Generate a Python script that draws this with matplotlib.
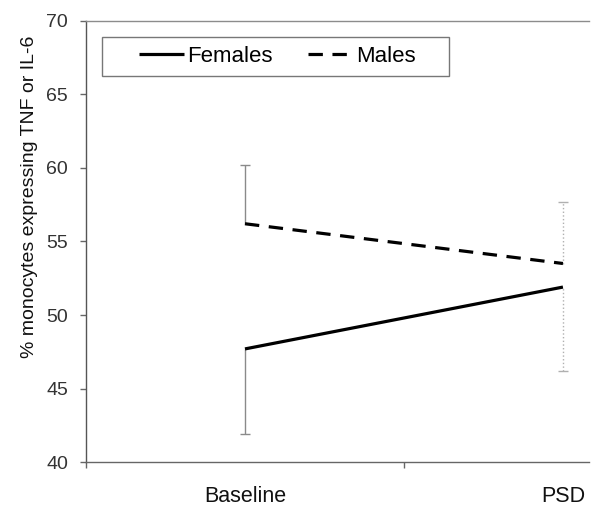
import matplotlib
matplotlib.use('Agg')
import matplotlib.pyplot as plt
from matplotlib.patches import Rectangle

plt.rcParams['font.family'] = ['Liberation Sans', 'DejaVu Sans']

times = ['Baseline', 'PSD']
females = [47.7, 51.9]
males = [56.2, 53.5]
females_err_low = [5.8, 5.7]
males_err_up = [4.0, 4.2]

x = list(range(len(times)))

fig = plt.figure(figsize=(6, 5.19), dpi=100)
ax = fig.add_axes([0.1433, 0.1092, 0.8383, 0.8513])

# one-sided error bars: males up, females down; baseline solid, PSD dotted
for i in x:
    style = '-' if i == 0 else ':'
    col = '#8a8a8a' if i == 0 else '#b0b0b0'
    top = males[i] + males_err_up[i]
    bot = females[i] - females_err_low[i]
    ax.vlines(i, males[i], top, colors=col, lw=1, linestyles=style)
    ax.vlines(i, bot, females[i], colors=col, lw=1, linestyles=style)
    ax.plot([i, i], [top, bot], ls='none', marker='_', ms=7, mew=1, color=col)

ax.plot(x, females, color='black', lw=2.3, label='Females', solid_capstyle='butt')
ax.plot(x, males, color='black', lw=2.3, dashes=(4.5, 3), label='Males')

ax.set_xlim(-0.5, 1.0818)
ax.set_ylim(40, 70)
ax.set_yticks([40, 45, 50, 55, 60, 65, 70])
ax.set_xticks([-0.5, 0.5])
ax.set_xticklabels([])
ax.set_xticks(x, minor=True)
ax.set_xticklabels(times, minor=True)
ax.tick_params(axis='x', which='minor', length=0, pad=17, labelsize=15.5, labelcolor='#111111')
ax.tick_params(axis='x', which='major', length=4.5, width=1, color='#666666', direction='out')
ax.tick_params(axis='y', length=4.5, width=1, color='#666666', pad=8.5, labelsize=14,
               labelcolor='#333333')

ax.spines['right'].set_visible(False)
ax.spines['top'].set_color('#8c8c8c')
ax.spines['left'].set_color('#555555')
ax.spines['bottom'].set_color('#666666')
for s in ax.spines.values():
    s.set_linewidth(1)

ax.set_ylabel('% monocytes expressing TNF or IL-6', fontsize=14, color='#111111')
ax.yaxis.set_label_coords(-0.095, 0.60)

# legend box drawn separately, entries centred inside
ax.add_patch(Rectangle((0.0318, 0.8744), 0.69, 0.0883, transform=ax.transAxes,
                       fill=False, edgecolor='#777777', lw=1, zorder=5))
ax.legend(loc='center', bbox_to_anchor=(0.381, 0.9185), ncol=2, frameon=False,
          fontsize=16, handlelength=2.0, handletextpad=0.15, columnspacing=1.6,
          borderaxespad=0, borderpad=0)

fig.savefig('out.png', dpi=100)
